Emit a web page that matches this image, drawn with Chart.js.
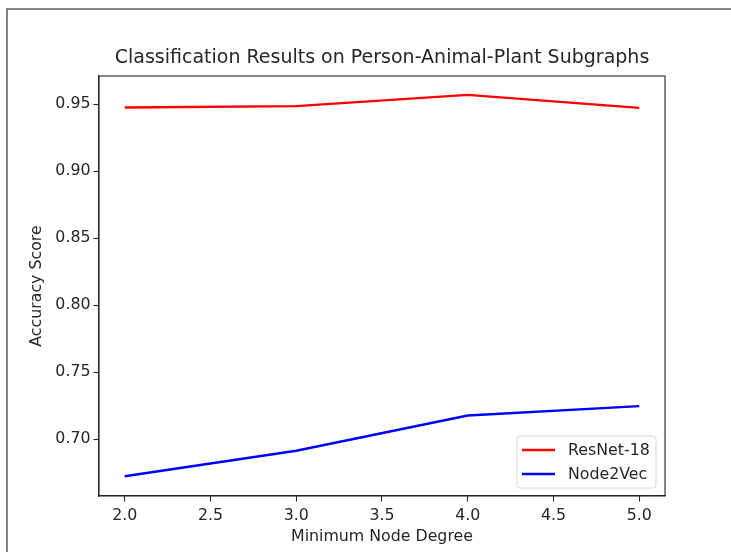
<!DOCTYPE html>
<html>
<head>
<meta charset="utf-8">
<script src="https://cdn.jsdelivr.net/npm/chart.js@4"></script>
<style>
  html, body { margin: 0; padding: 0; background: #fff; overflow: hidden; }
  #wrap { width: 731px; height: 552px; position: relative; }
</style>
</head>
<body>
<div id="wrap"><canvas id="lineChart" width="731" height="552"></canvas></div>
<script>
// values
const degrees = [2.0, 3.0, 4.0, 5.0];
const resnetAcc = [0.9475, 0.9485, 0.9569, 0.9472];
const node2vecAcc = [0.6722, 0.6913, 0.7176, 0.7246];
const xTicks = [2.0, 2.5, 3.0, 3.5, 4.0, 4.5, 5.0];
const yTicks = [0.70, 0.75, 0.80, 0.85, 0.90, 0.95];

const FONT = "'DejaVu Sans', sans-serif";
const INK = '#262626';

// title, plot frame, outer figure edge and an in-plot legend, drawn like matplotlib
const mplExtras = {
    id: 'mplExtras',
    beforeDraw(chart) {
        const ctx = chart.ctx;
        ctx.save();
        ctx.strokeStyle = '#5a5a5a';
        ctx.lineWidth = 1.5;
        ctx.beginPath();
        ctx.moveTo(7, chart.height);
        ctx.lineTo(7, 9);
        ctx.lineTo(chart.width, 9);
        ctx.stroke();
        ctx.restore();
    },
    afterDraw(chart) {
        const ctx = chart.ctx;
        const a = chart.chartArea;
        ctx.save();
        // frame around the plot
        ctx.strokeStyle = INK;
        ctx.lineWidth = 1.1;
        ctx.strokeRect(a.left, a.top, a.right - a.left, a.bottom - a.top);

        // title
        ctx.fillStyle = INK;
        ctx.font = '19px ' + FONT;
        ctx.textAlign = 'center';
        ctx.textBaseline = 'middle';
        ctx.fillText('Classification Results on Person-Animal-Plant Subgraphs', (a.left + a.right) / 2, 58);

        // legend, lower right
        const boxR = a.right - 9, boxB = a.bottom - 8;
        const boxW = 139, boxH = 52;
        const bx = boxR - boxW, by = boxB - boxH;
        ctx.fillStyle = 'rgba(255,255,255,0.8)';
        ctx.strokeStyle = '#d6d6d6';
        ctx.lineWidth = 1;
        ctx.beginPath();
        ctx.roundRect(bx, by, boxW, boxH, 3);
        ctx.fill();
        ctx.stroke();
        ctx.font = '15.8px ' + FONT;
        ctx.textAlign = 'left';
        chart.data.datasets.forEach((ds, i) => {
            const y = by + 14 + i * 24;
            ctx.strokeStyle = ds.borderColor;
            ctx.lineWidth = ds.borderWidth;
            ctx.beginPath();
            ctx.moveTo(bx + 5, y);
            ctx.lineTo(bx + 38, y);
            ctx.stroke();
            ctx.fillStyle = INK;
            ctx.fillText(ds.label, bx + 51, y + 1);
        });
        ctx.restore();
    }
};

const ctx = document.getElementById('lineChart').getContext('2d');
const lineChart = new Chart(ctx, {
    type: 'line',
    data: {
        datasets: [
            {
                label: 'ResNet-18',
                data: degrees.map((d, i) => ({ x: d, y: resnetAcc[i] })),
                borderColor: '#ff0000',
                borderWidth: 2.4,
                pointRadius: 0,
                tension: 0,
                fill: false
            },
            {
                label: 'Node2Vec',
                data: degrees.map((d, i) => ({ x: d, y: node2vecAcc[i] })),
                borderColor: '#0000ff',
                borderWidth: 2.4,
                pointRadius: 0,
                tension: 0,
                fill: false
            }
        ]
    },
    options: {
        responsive: false,
        animation: false,
        layout: { padding: { top: 76, right: 66, bottom: 6, left: 27 } },
        plugins: {
            legend: { display: false },
            title: { display: false },
            tooltip: { enabled: false }
        },
        scales: {
            x: {
                type: 'linear',
                min: 1.85,
                max: 5.15,
                afterBuildTicks: (s) => { s.ticks = xTicks.map(v => ({ value: v })); },
                afterFit: (s) => { s.height = 50; },
                grid: { display: true, drawOnChartArea: false, drawTicks: true, tickLength: 5.5, tickColor: INK, tickWidth: 1.1 },
                border: { display: true, color: INK, width: 1.1 },
                ticks: {
                    color: INK,
                    font: { family: FONT, size: 15.8 },
                    padding: 5,
                    maxRotation: 0,
                    callback: (v) => Number(v).toFixed(1)
                },
                title: {
                    display: true,
                    text: 'Minimum Node Degree',
                    color: INK,
                    font: { family: FONT, size: 15.8 },
                    padding: { top: 0, bottom: 0 }
                }
            },
            y: {
                type: 'linear',
                min: 0.6575,
                max: 0.971,
                afterBuildTicks: (s) => { s.ticks = yTicks.map(v => ({ value: v })); },
                afterFit: (s) => { s.width = 72; },
                grid: { display: true, drawOnChartArea: false, drawTicks: true, tickLength: 5.5, tickColor: INK, tickWidth: 1.1 },
                border: { display: true, color: INK, width: 1.1 },
                ticks: {
                    color: INK,
                    font: { family: FONT, size: 15.8 },
                    padding: 3,
                    callback: (v) => Number(v).toFixed(2)
                },
                title: {
                    display: true,
                    text: 'Accuracy Score',
                    color: INK,
                    font: { family: FONT, size: 15.8 },
                    padding: { top: 0, bottom: 0 }
                }
            }
        }
    },
    plugins: [mplExtras]
});
</script>
</body>
</html>
